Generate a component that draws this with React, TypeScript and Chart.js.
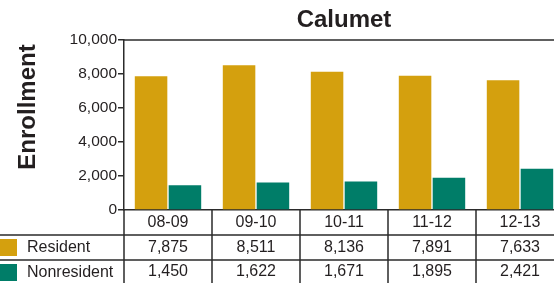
import React, { useEffect, useRef } from "react";
import { Chart, registerables } from "chart.js";

Chart.register(...registerables);

const categories = ["08-09", "09-10", "10-11", "11-12", "12-13"];
const resident = [7875, 8511, 8136, 7891, 7633];
const nonresident = [1450, 1622, 1671, 1895, 2421];
const seriesNames = ["Resident", "Nonresident"];
const seriesColors = ["#D4A00E", "#007D68"];
const chartTitle = "Calumet";
const yTitle = "Enrollment";

const FONT = "'Liberation Sans', Arial, Helvetica, sans-serif";
const TEXT = "#231f20";
const LINE = "#2b2b2b";

const fmt = (v: number) => v.toLocaleString("en-US");

const decorPlugin = {
  id: "decor",
  afterDraw(chart: any) {
    const ctx = chart.ctx as CanvasRenderingContext2D;
    const { left, right, top, bottom } = chart.chartArea;
    const xs = chart.scales.x;
    const n = categories.length;
    const colW = (right - left) / n;
    const H = chart.height;
    ctx.save();

    // top border of plot
    ctx.strokeStyle = LINE;
    ctx.lineWidth = 1.5;
    ctx.beginPath();
    ctx.moveTo(left, top);
    ctx.lineTo(right, top);
    ctx.stroke();

    // title
    ctx.fillStyle = TEXT;
    ctx.font = `bold 24px ${FONT}`;
    ctx.textAlign = "center";
    ctx.textBaseline = "alphabetic";
    ctx.fillText(chartTitle, (left + right) / 2, 27);

    // y title
    ctx.save();
    ctx.translate(35, 107);
    ctx.rotate(-Math.PI / 2);
    ctx.font = `bold 24px ${FONT}`;
    ctx.textAlign = "center";
    ctx.textBaseline = "alphabetic";
    ctx.fillText(yTitle, 0, 0);
    ctx.restore();

    // table
    const row1 = bottom + 25;
    const row2 = bottom + 50;
    ctx.strokeStyle = LINE;
    ctx.lineWidth = 1.5;
    ctx.beginPath();
    for (let i = 0; i <= n; i++) {
      const x = Math.round(left + i * colW);
      ctx.moveTo(x, bottom);
      ctx.lineTo(x, H);
    }
    ctx.moveTo(0, row1);
    ctx.lineTo(right, row1);
    ctx.moveTo(0, row2);
    ctx.lineTo(right, row2);
    ctx.stroke();

    ctx.font = `16px ${FONT}`;
    ctx.fillStyle = TEXT;
    ctx.textAlign = "center";
    ctx.textBaseline = "middle";
    const rows = [resident, nonresident];
    for (let i = 0; i < n; i++) {
      const cx = xs.getPixelForValue(i);
      ctx.fillText(categories[i], cx, bottom + 13);
      ctx.fillText(fmt(rows[0][i]), cx, row1 + 13);
      ctx.fillText(fmt(rows[1][i]), cx, row2 + 12);
    }

    // legend
    ctx.textAlign = "left";
    const rowTops = [row1, row2];
    for (let s = 0; s < seriesNames.length; s++) {
      ctx.fillStyle = seriesColors[s];
      ctx.fillRect(0, rowTops[s] + 4, 17, 17);
      ctx.fillStyle = TEXT;
      ctx.fillText(seriesNames[s], 27, rowTops[s] + 13);
    }
    ctx.restore();
  },
};

export default function App() {
  const ref = useRef<HTMLCanvasElement | null>(null);
  useEffect(() => {
    if (!ref.current) return;
    const chart = new Chart(ref.current, {
      type: "bar",
      data: {
        labels: categories,
        datasets: [
          {
            label: seriesNames[0],
            data: resident,
            backgroundColor: seriesColors[0],
            barPercentage: 0.96,
            categoryPercentage: 0.77,
          },
          {
            label: seriesNames[1],
            data: nonresident,
            backgroundColor: seriesColors[1],
            barPercentage: 0.96,
            categoryPercentage: 0.77,
          },
        ],
      },
      options: {
        responsive: false,
        animation: false,
        devicePixelRatio: 1,
        layout: { padding: { top: 40, left: 0, right: 0, bottom: 0 } },
        plugins: {
          legend: { display: false },
          title: { display: false },
          tooltip: { enabled: false },
        },
        scales: {
          x: {
            ticks: { display: false },
            grid: { display: false },
            border: { display: true, color: LINE, width: 1.5 },
            afterFit: (scale: any) => {
              scale.height = 73;
            },
          },
          y: {
            min: 0,
            max: 10000,
            ticks: {
              stepSize: 2000,
              color: TEXT,
              font: { family: FONT, size: 15.5 },
              padding: 1,
              callback: (v: any) => fmt(Number(v)),
            },
            grid: {
              drawOnChartArea: false,
              drawTicks: true,
              tickLength: 6,
              color: LINE,
              lineWidth: 1.5,
            },
            border: { display: true, color: LINE, width: 1.5 },
            afterFit: (scale: any) => {
              scale.width = 124;
            },
          },
        },
      } as any,
      plugins: [decorPlugin],
    });
    return () => chart.destroy();
  }, []);

  return (
    <div
      style={{
        position: "fixed",
        left: 0,
        top: 0,
        width: 554,
        height: 283,
        overflow: "hidden",
        background: "#fff",
      }}
    >
      <canvas ref={ref} width={564} height={283} style={{ display: "block" }} />
    </div>
  );
}
